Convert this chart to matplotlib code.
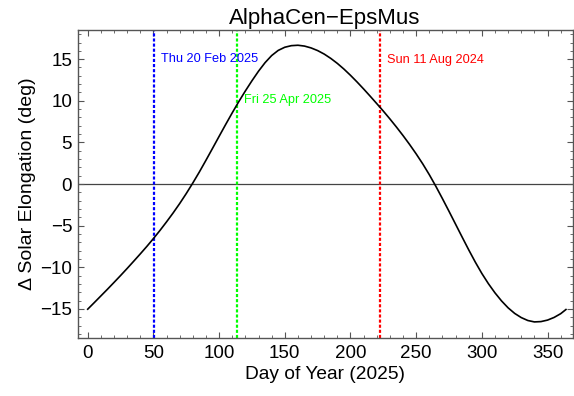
import numpy as np
import matplotlib.pyplot as plt
from matplotlib.ticker import MultipleLocator

plt.rcParams['font.family'] = ['Liberation Sans', 'DejaVu Sans']

# day of year (0 based) and difference in solar elongation (deg)
days = [0, 5, 10, 15, 20, 25, 30, 35, 40, 45, 50, 55, 60, 65, 70, 75, 80, 85,
        90, 95, 100, 105, 110, 115, 120, 125, 130, 135, 140, 145, 150, 155,
        160, 165, 170, 175, 180, 185, 190, 195, 200, 205, 210, 215, 220, 225,
        230, 235, 240, 245, 250, 255, 260, 265, 270, 275, 280, 285, 290, 295,
        300, 305, 310, 315, 320, 325, 330, 335, 340, 345, 350, 355, 360, 364]
delong = [-15.04, -14.25, -13.45, -12.65, -11.83, -11.0, -10.15, -9.28, -8.4, -7.5,
          -6.56, -5.58, -4.55, -3.48, -2.35, -1.15, 0.12, 1.45,
          2.85, 4.28, 5.72, 7.15, 8.55, 9.9, 11.18, 12.4, 13.55, 14.58, 15.43, 16.05,
          16.43, 16.62, 16.67, 16.57, 16.35, 16.03, 15.61, 15.09, 14.49, 13.81,
          13.06, 12.26, 11.42, 10.55, 9.66, 8.76, 7.82, 6.84, 5.82, 4.75,
          3.62, 2.42, 1.12, -0.28, -1.76, -3.28, -4.83, -6.38, -7.91, -9.38,
          -10.75, -11.98, -13.08, -14.05, -14.88, -15.55, -16.05, -16.4, -16.57, -16.53,
          -16.35, -16.03, -15.58, -15.08]

# marked dates
mark_days = [50.3, 113.6, 222.6]
mark_labels = ['Thu 20 Feb 2025', 'Fri 25 Apr 2025', 'Sun 11 Aug 2024']
mark_colors = ['#0000ff', '#00ff00', '#ff0000']
mark_text_y = [15.0, 10.1, 14.9]

fig = plt.figure(figsize=(5.74, 3.96), dpi=100)
ax = fig.add_axes([0.1354, 0.1465, 0.8620, 0.7777])

ax.axhline(0, color='#444444', lw=0.9, zorder=1)
ax.plot(days, delong, color='black', lw=1.2, zorder=3)

for d, lab, c, ty in zip(mark_days, mark_labels, mark_colors, mark_text_y):
    ax.axvline(d, color=c, lw=1.6, ls=(0, (1.4, 0.9)), zorder=2)
    ax.text(d + 5.5, ty, lab, color=c, fontsize=9.2, va='center', ha='left')

ax.set_xlim(-7.6, 369)
ax.set_ylim(-18.5, 18.5)

ax.xaxis.set_major_locator(MultipleLocator(50))
ax.xaxis.set_minor_locator(MultipleLocator(10))
ax.yaxis.set_major_locator(MultipleLocator(5))
ax.yaxis.set_minor_locator(MultipleLocator(1))

ax.tick_params(which='both', direction='in', top=True, right=True,
               color='#555555', labelsize=13.5, labelcolor='black')
ax.tick_params(which='major', length=4.5, width=0.8)
ax.tick_params(which='minor', length=2.5, width=0.6)
ax.tick_params(axis='x', pad=5)
ax.tick_params(axis='y', pad=4)

for s in ax.spines.values():
    s.set_color('#555555')
    s.set_linewidth(1.0)

ax.set_xlabel('Day of Year (2025)', fontsize=13.8, labelpad=3)
ax.set_ylabel('\u0394 Solar Elongation (deg)', fontsize=14, labelpad=3)
ax.set_title('AlphaCen\u2212EpsMus', fontsize=16, pad=4)

fig.savefig('out.png', dpi=100)
